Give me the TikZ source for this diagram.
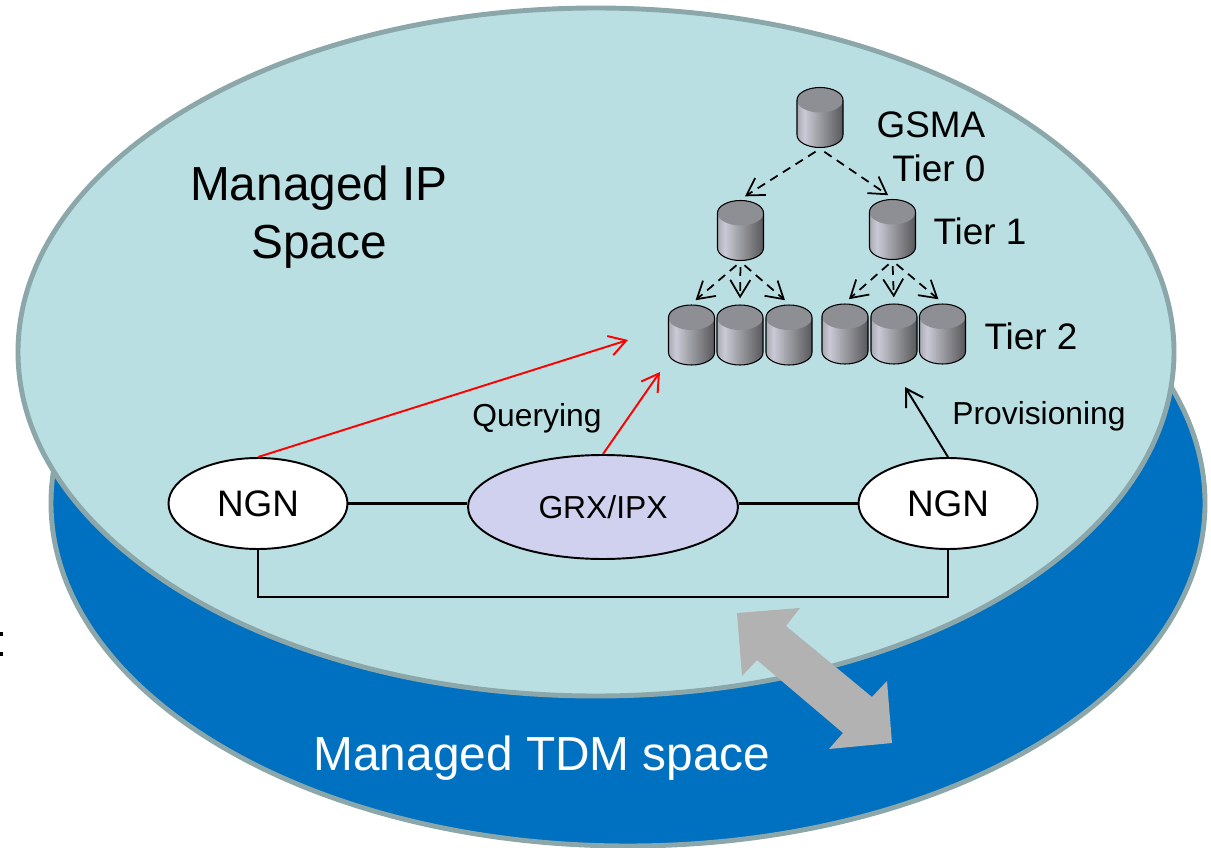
\documentclass[tikz,border=0pt]{standalone}
\usepackage{fontspec}
\setmainfont{Liberation Sans}
\usepackage{xcolor}
\usepackage{tikz}
\usetikzlibrary{shapes.geometric}
\usetikzlibrary{arrows.meta}

\definecolor{ipteal}{HTML}{B9DFE2}
\definecolor{tdmblue}{HTML}{0070C0}
\definecolor{rimgray}{HTML}{8CA7AA}
\definecolor{grxlilac}{HTML}{D0D1EF}
\definecolor{swapgray}{HTML}{B2B2B2}
\definecolor{dbtop}{HTML}{8E8F94}
\definecolor{dbedge}{HTML}{A8A9B1}
\definecolor{dblight}{HTML}{C9CAD6}
\definecolor{dbmid}{HTML}{9A9BA0}
\definecolor{dbdark}{HTML}{58585C}

\pgfdeclarehorizontalshading{dbshade}{100bp}{
    color(0bp)=(dbedge);
    color(25bp)=(dbedge);
    color(33bp)=(dblight);
    color(50bp)=(dbmid);
    color(75bp)=(dbdark);
    color(100bp)=(dbdark)}

\newcommand{\dbdrum}{(-23, -17.5) arc [start angle = 180, end angle = 360, x radius = 23, y radius = 12.5]
    -- (23, 17.5) arc [start angle = 0, end angle = 180, x radius = 23, y radius = 12.5] -- cycle}

\tikzset{
    plate/.style = {draw = rimgray, line width = 2.8pt},
    dbase/.style = {rectangle, minimum width = 0.96cm, minimum height = 1.24cm, inner sep = 0pt,
        path picture = {
            \begin{scope}[shift = {(path picture bounding box.center)}]
                \shade [shading = dbshade] \dbdrum;
                \fill [dbtop] (0, -17.5) ellipse [x radius = 23, y radius = 12.5];
                \draw [black, line width = 0.6pt] \dbdrum;
            \end{scope}
        }},
    gate/.style = {ellipse, draw = black, line width = 1.1pt, inner sep = 0pt},
    link/.style = {draw = black, line width = 1.15pt},
    tree/.style = {draw = black, line width = 1pt, dash pattern = on 5pt off 3.5pt,
        shorten <= 3pt, shorten > = 3pt,
        -{Straight Barb[length = 9.5pt, width = 11.4pt, line width = 1pt]}},
    query/.style = {line width = 1.1pt,
        -{Straight Barb[length = 9.5pt, width = 11.4pt, line width = 1.1pt]}},
    bigfont/.style = {font = \fontsize{27.2}{33}\selectfont},
    tierfont/.style = {font = \fontsize{21}{25}\selectfont},
    smallfont/.style = {font = \fontsize{18.1}{22}\selectfont}
}

\begin{document}
\begin{tikzpicture}[x = 0.02cm, y = -0.02cm]
        \useasboundingbox (0, 0) rectangle (1211, 848);

        \filldraw [plate, fill = tdmblue] (628, 503) ellipse [x radius = 577, y radius = 343];
        \filldraw [plate, fill = ipteal] (596, 352) ellipse [x radius = 578, y radius = 344];

        \fill (0, 632) rectangle (3, 636);
        \fill (0, 652) rectangle (3, 656);

        \node (ipspace) at (319, 217) [bigfont, align = center] {Managed IP\\Space};
        \node (tdmspace) at (542, 758) [bigfont, white] {Managed TDM space};
        \node (tiergsma) at (931, 147) [tierfont, align = right] {GSMA\\Tier 0};
        \node (tierone) at (980, 231) [tierfont] {Tier 1};
        \node (tiertwo) at (1031, 336) [tierfont] {Tier 2};
        \node (querying) at (537, 418) [smallfont] {Querying};
        \node (provisioning) at (1039, 416) [smallfont] {Provisioning};

        \node (gsma) at (820, 117.5) [dbase] {};
        \node (onea) at (740.5, 230.5) [dbase] {};
        \node (oneb) at (892.5, 229.5) [dbase] {};
        \node (twoa) at (691.5, 335) [dbase] {};
        \node (twob) at (740, 335) [dbase] {};
        \node (twoc) at (789, 335) [dbase] {};
        \node (twod) at (845, 334) [dbase] {};
        \node (twoe) at (894, 334) [dbase] {};
        \node (twof) at (942.5, 334) [dbase] {};

        \draw [tree] (gsma.south) -- (onea.north);
        \draw [tree] (gsma.south) -- (oneb.north);
        \draw [tree] (onea.south) -- (twoa.north);
        \draw [tree] (onea.south) -- (twob.north);
        \draw [tree] (onea.south) -- (twoc.north);
        \draw [tree] (oneb.south) -- (twod.north);
        \draw [tree] (oneb.south) -- (twoe.north);
        \draw [tree] (oneb.south) -- (twof.north);

        \node (ngnl) at (258, 503.5) [gate, fill = white, minimum width = 3.58cm, minimum height = 1.82cm,
            tierfont] {NGN};
        \node (ngnr) at (948, 503.5) [gate, fill = white, minimum width = 3.58cm, minimum height = 1.82cm,
            tierfont] {NGN};
        \node (grx) at (603, 507) [gate, fill = grxlilac, minimum width = 5.4cm, minimum height = 2.08cm,
            smallfont] {GRX/IPX};

        \coordinate (dbasel) at (628, 340);
        \coordinate (dbasem) at (660, 372);
        \coordinate (dbaser) at (905, 387);

        \draw [link] (ngnl.east) -- (ngnl.east -| grx.west);
        \draw [link] (ngnr.west -| grx.east) -- (ngnr.west);
        \draw [link] (ngnl.south) -- (258, 597) -- (948, 597) -- (ngnr.south);

        \draw [query, red] (ngnl.north) -- (dbasel);
        \draw [query, red] (grx.north) -- (dbasem);
        \draw [query, black] (ngnr.north) -- (dbaser);

        \fill [swapgray] (737, 613) -- (800, 608) -- (786, 626) -- (872, 697) -- (887, 681)
            -- (892, 743) -- (829, 749) -- (843, 733) -- (757, 660) -- (742, 676) -- cycle;
    \end{tikzpicture}
\end{document}
